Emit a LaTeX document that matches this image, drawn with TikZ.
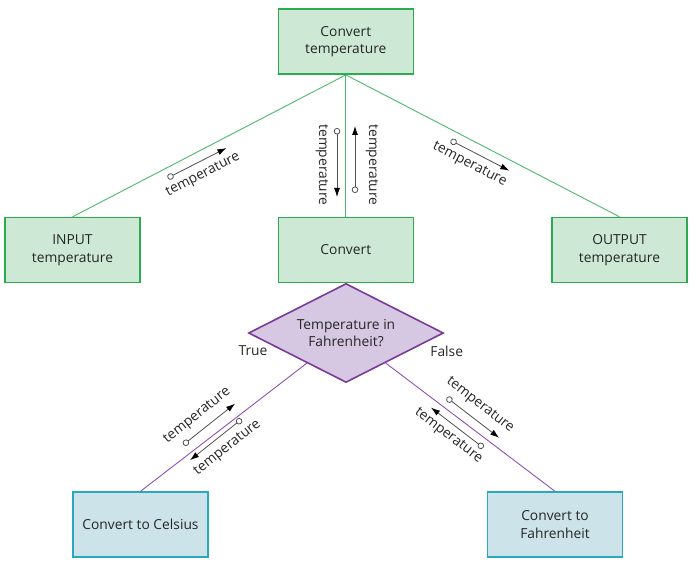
\documentclass[tikz,border=0pt]{standalone}
\usepackage{fontspec}
\setmainfont{Open Sans}
\usetikzlibrary{shapes.geometric,arrows.meta}
\definecolor{gfill}{HTML}{CDE8D5}
\definecolor{gdraw}{HTML}{2BAA4E}
\definecolor{gline}{HTML}{4DB86A}
\definecolor{pfill}{HTML}{D6C8E3}
\definecolor{pdraw}{HTML}{7B3A96}
\definecolor{pline}{HTML}{9050B0}
\definecolor{bfill}{HTML}{CCE3EA}
\definecolor{bdraw}{HTML}{2AA8BF}
\definecolor{txt}{HTML}{262626}
\definecolor{fgray}{HTML}{505050}
\newcommand{\flowlabel}[8]{%
  \begin{scope}[shift={(#2,#3)}, rotate=#4]
    \coordinate (#1-s) at (#5,0);
    \coordinate (#1-e) at (#6,0);
    \draw[flowarr] (#1-s) -- (#1-e);
    \node[lbl, rotate=#4] (#1) at (#7,#8) {temperature};
  \end{scope}}
\begin{document}
\begin{tikzpicture}[x=1pt,y=-1pt,
  every node/.style={font=\fontsize{13.8}{17.5}\selectfont, text=txt},
  gbox/.style={draw=gdraw, fill=gfill, line width=1.4pt, minimum width=135pt, minimum height=65pt, align=center, inner sep=0pt},
  bbox/.style={gbox, draw=bdraw, fill=bfill},
  dia/.style={diamond, aspect=2, draw=pdraw, fill=pfill, line width=1.6pt, minimum width=195pt, minimum height=99pt, inner sep=0pt, align=center},
  gconn/.style={draw=gline, line width=0.9pt},
  pconn/.style={draw=pline, line width=0.9pt},
  flowarr/.style={draw=fgray, line width=0.8pt, {Circle[open, length=6.5pt, width=6.5pt, line width=0.8pt]}-{Latex[length=9pt, width=6pt, color=black]}},
  lbl/.style={inner sep=0pt}
  ]
\useasboundingbox (0,0) rectangle (696,564);
\node[gbox] (top) at (345.8,41.7) {Convert\\temperature};
\node[gbox] (inp) at (72.5,250) {INPUT\\temperature};
\node[gbox] (conv) at (345.8,250) {Convert};
\node[gbox] (outp) at (619.5,250) {OUTPUT\\temperature};
\node[dia] (dia) at (346,333) {Temperature in\\Fahrenheit?};
\node[bbox] (cel) at (140.5,524.5) {Convert to Celsius};
\node[bbox] (fah) at (555,524.5) {Convert to\\Fahrenheit};
\draw[gconn] (top.south) -- (inp.north);
\draw[gconn] (top.south) -- (conv.north);
\draw[gconn] (top.south) -- (outp.north);
\draw[pconn] (dia) -- (cel.north);
\draw[pconn] (dia) -- (fah.north);
\node (true) at (253,351) {True};
\node (false) at (446.7,351) {False};
\flowlabel{a1}{197}{163}{27}{-33}{33}{0}{13.5}
\flowlabel{a2}{480}{155.5}{-27.3}{-33}{33}{-5}{13}
\flowlabel{a3}{337}{162.5}{-90}{-34.5}{34.5}{2.5}{15}
\flowlabel{a4}{355}{159.5}{-90}{33.5}{-33.5}{5.5}{-17}
\flowlabel{a5}{209.2}{424.2}{38.5}{-33}{33}{-4}{-14}
\flowlabel{a6}{215.8}{439.7}{38.5}{33}{-33}{4}{14}
\flowlabel{a7}{473}{417.7}{-37.5}{-33}{33}{-2}{-14}
\flowlabel{a8}{457.2}{427.7}{-37.5}{33}{-33}{-2}{12}
\end{tikzpicture}
\end{document}
